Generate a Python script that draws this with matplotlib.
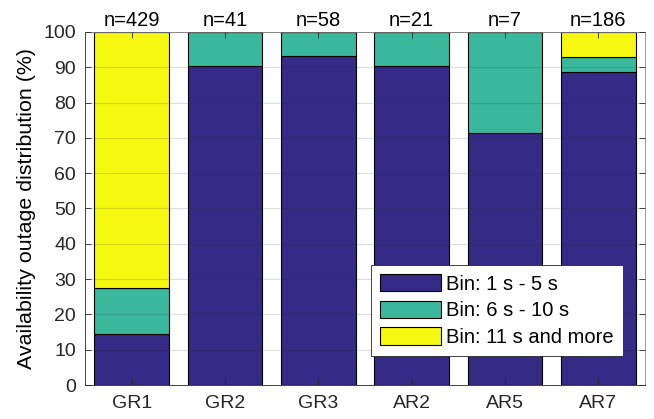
import numpy as np
import matplotlib.pyplot as plt

plt.rcParams["font.family"] = ["Liberation Sans", "DejaVu Sans"]

# outage counts per duration bin for each route
routes = ["GR1", "GR2", "GR3", "AR2", "AR5", "AR7"]
bin_short = [62, 37, 54, 19, 5, 165]   # 1 s - 5 s
bin_mid = [56, 4, 4, 2, 2, 8]          # 6 s - 10 s
bin_long = [311, 0, 0, 0, 0, 13]       # 11 s and more
bin_names = ["Bin: 1 s - 5 s", "Bin: 6 s - 10 s", "Bin: 11 s and more"]
colors = ["#352a86", "#39b89b", "#f7f80f"]

counts = np.array([bin_short, bin_mid, bin_long], dtype=float)
totals = counts.sum(axis=0)
pct = counts / totals * 100

fig = plt.figure(figsize=(6.54, 4.19), dpi=100)
ax = fig.add_axes([85 / 654, 1 - 385 / 419, 560 / 654, 353 / 419])

x = np.arange(1, len(routes) + 1)
bottom = np.zeros(len(routes))
for vals, name, c in zip(pct, bin_names, colors):
    ax.bar(x, vals, 0.8, bottom=bottom, color=c, edgecolor="black",
           linewidth=0.8, label=name, zorder=1)
    bottom += vals

for xi, n in zip(x, totals):
    ax.text(xi, 101.7, f"n={int(n)}", ha="center", va="baseline", fontsize=14.5)

ax.set_xlim(0.5, 6.5)
ax.set_ylim(0, 100)
ax.set_yticks(range(0, 101, 10))
ax.set_xticks(x)
ax.set_xticklabels(routes)
ax.set_ylabel("Availability outage distribution (%)", fontsize=15.4, labelpad=5)
ax.tick_params(direction="in", length=4, top=True, right=True,
               labelsize=14, colors="#262626", width=0.6)
ax.tick_params(axis="x", pad=7.5)
ax.tick_params(axis="y", pad=6.5)
for lab in ax.get_xticklabels() + ax.get_yticklabels():
    lab.set_color("#262626")
for s in ax.spines.values():
    s.set_color("#262626")
    s.set_linewidth(0.6)
ax.spines["right"].set_color("#8a8a8a")
ax.spines["top"].set_color("#8a8a8a")

ax.set_axisbelow(False)
ax.yaxis.grid(True, color="#262626", alpha=0.15, linewidth=0.8, zorder=2)

leg = ax.legend(loc="lower right", bbox_to_anchor=(0.96, 0.082),
                borderaxespad=0, fontsize=14.5, fancybox=False, framealpha=1,
                edgecolor="#262626", handlelength=3.0, handleheight=0.95,
                handletextpad=0.25, labelspacing=0.35, borderpad=0.45)
leg.get_frame().set_linewidth(0.6)
leg.set_zorder(5)

fig.savefig("out.png", dpi=100)
